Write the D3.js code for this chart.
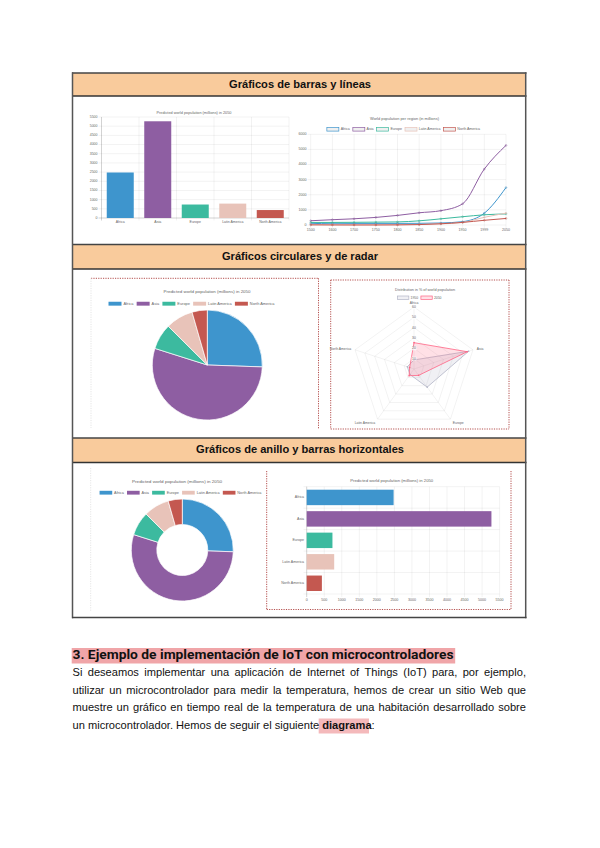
<!DOCTYPE html>
<html><head><meta charset="utf-8">
<script src="https://cdn.jsdelivr.net/npm/d3@7"></script>
<style>body{margin:0;background:#fff}svg{display:block}</style>
</head><body>
<svg id="c" width="600" height="848"></svg>
<script>
// ---------------- DATA ----------------
const regions = ["Africa", "Asia", "Europe", "Latin America", "North America"];
const regionColors = ["#3e95cd", "#8e5ea2", "#3cba9f", "#e8c3b9", "#c45850"];
const pop2050 = [2478, 5267, 734, 784, 433];
const years = ["1500", "1600", "1700", "1750", "1800", "1850", "1900", "1950", "1999", "2050"];
const africaSeries = [86, 114, 106, 106, 107, 111, 133, 221, 783, 2478];
const asiaSeries = [282, 350, 411, 502, 635, 809, 947, 1402, 3700, 5267];
const europeSeries = [168, 170, 178, 190, 203, 276, 408, 547, 675, 734];
const latamSeries = [40, 20, 10, 16, 24, 38, 74, 167, 508, 784];
const naSeries = [6, 3, 2, 2, 7, 26, 82, 172, 312, 433];
const radarLabels = ["Africa", "Asia", "Europe", "Latin America", "North America"];
const share1950 = [8.77, 55.61, 21.69, 6.62, 6.82];
const share2050 = [25.48, 54.16, 7.61, 8.06, 4.45];
const barTicks = d3.range(0, 5501, 500);
const lineTicks = d3.range(0, 6001, 1000);
const radarTicks = [10, 20, 30, 40, 50, 60];
const sectionTitles = ["Gráficos de barras y líneas", "Gráficos circulares y de radar", "Gráficos de anillo y barras horizontales"];
const barTitle = "Predicted world population (millions) in 2050";
const lineTitle = "World population per region (in millions)";
const radarTitle = "Distribution in % of world population";
const heading = "3. Ejemplo de implementación de IoT con microcontroladores";
const paraLines = [
  "Si deseamos implementar una aplicación de Internet of Things (IoT) para, por ejemplo,",
  "utilizar un microcontrolador para medir la temperatura, hemos de crear un sitio Web que",
  "muestre un gráfico en tiempo real de la temperatura de una habitación desarrollado sobre"
];
const lastLineA = "un microcontrolador. Hemos de seguir el siguiente ";
const lastLineBold = "diagrama";
const lastLineC = ":";

// ---------------- HELPERS ----------------
const svg = d3.select("#c");
svg.append("rect").attr("width", 600).attr("height", 848).attr("fill", "#fff");
const FONT = "'Liberation Sans', Arial, Helvetica, sans-serif";
const GRID = "rgba(0,0,0,0.1)";
const TXT = "#666";

function text(g, x, y, s, fs, o = {}) {
  const t = g.append("text").attr("x", x).attr("y", y).text(s)
    .attr("font-family", o.family || FONT).attr("font-size", fs)
    .attr("fill", o.fill || TXT).attr("text-anchor", o.anchor || "start")
    .attr("dominant-baseline", o.baseline || "middle");
  if (o.weight) t.attr("font-weight", o.weight);
  if (o.len) t.attr("textLength", o.len).attr("lengthAdjust", "spacingAndGlyphs");
  return t;
}
function measure(s, fs, weight, family) {
  const t = svg.append("text").attr("font-family", family || FONT).attr("font-size", fs)
    .attr("font-weight", weight || "normal").text(s);
  const w = t.node().getComputedTextLength(); t.remove(); return w;
}
function legend(g, labels, cx, y, fs, boxStyle) {
  const bw = fs * 3.33, bh = fs, gap1 = fs * 0.5, gap2 = bw * 0.25;
  const ws = labels.map(l => measure(l, fs));
  const total = d3.sum(ws) + labels.length * (bw + gap1) + (labels.length - 1) * gap2;
  let x = cx - total / 2;
  labels.forEach((l, i) => {
    const r = g.append("rect").attr("x", x).attr("y", y - bh / 2).attr("width", bw).attr("height", bh);
    boxStyle(r, i);
    text(g, x + bw + gap1, y, l, fs);
    x += bw + gap1 + ws[i] + gap2;
  });
}
function dotted(g, x1, y1, x2, y2, color, w) {
  g.append("line").attr("x1", x1).attr("y1", y1).attr("x2", x2).attr("y2", y2)
    .attr("stroke", color).attr("stroke-width", w || 1).attr("stroke-dasharray", "1.2,1.2");
}

// ---------------- TABLE ----------------
const table = svg.append("g");
const headerRows = [[73, 96], [244.5, 269], [438, 462.5]];
const headerLens = [142, 156, 208];
headerRows.forEach(([y0, y1], i) => {
  table.append("rect").attr("x", 72.5).attr("y", y0).attr("width", 453).attr("height", y1 - y0).attr("fill", "#f9cb9c");
  table.append("line").attr("x1", 72).attr("x2", 526.5).attr("y1", y0).attr("y2", y0).attr("stroke", "#444").attr("stroke-width", 1.5);
  table.append("line").attr("x1", 72).attr("x2", 526.5).attr("y1", y1).attr("y2", y1).attr("stroke", "#333").attr("stroke-width", 1.3);
  text(table, 300, (y0 + y1) / 2 + 0.5, sectionTitles[i], 10, { anchor: "middle", weight: "bold", fill: "#111", len: headerLens[i] });
});
table.append("line").attr("x1", 72.5).attr("x2", 72.5).attr("y1", 72.3).attr("y2", 618.3).attr("stroke", "#555").attr("stroke-width", 1.5);
table.append("line").attr("x1", 525.7).attr("x2", 525.7).attr("y1", 72.3).attr("y2", 618.3).attr("stroke", "#555").attr("stroke-width", 1.5);
table.append("line").attr("x1", 72).attr("x2", 526.5).attr("y1", 617.6).attr("y2", 617.6).attr("stroke", "#444").attr("stroke-width", 1.5);

// ---------------- BAR CHART ----------------
(function () {
  const g = svg.append("g");
  const fs = 3.5;
  const x = d3.scaleBand().domain(regions).range([101.5, 289]).padding(0);
  const y = d3.scaleLinear().domain([0, 5500]).range([218, 117]);
  text(g, 194, 112.7, barTitle, fs, { anchor: "middle", len: 75 });
  barTicks.forEach(t => {
    g.append("line").attr("x1", 98.5).attr("x2", 289).attr("y1", y(t)).attr("y2", y(t)).attr("stroke", GRID).attr("stroke-width", 0.5);
    text(g, 97.5, y(t), String(t), fs, { anchor: "end" });
  });
  regions.forEach((r, i) => {
    g.append("line").attr("x1", x(r)).attr("x2", x(r)).attr("y1", 117).attr("y2", 220.5).attr("stroke", GRID).attr("stroke-width", 0.5);
  });
  g.append("line").attr("x1", 289).attr("x2", 289).attr("y1", 117).attr("y2", 220.5).attr("stroke", GRID).attr("stroke-width", 0.5);
  g.append("line").attr("x1", 101.5).attr("x2", 101.5).attr("y1", 117).attr("y2", 220.5).attr("stroke", "rgba(0,0,0,0.25)").attr("stroke-width", 0.5);
  g.append("line").attr("x1", 98.5).attr("x2", 289).attr("y1", 218).attr("y2", 218).attr("stroke", "rgba(0,0,0,0.25)").attr("stroke-width", 0.5);
  const bw = x.bandwidth() * 0.72;
  g.selectAll(".b").data(pop2050).join("rect")
    .attr("x", (d, i) => x(regions[i]) + (x.bandwidth() - bw) / 2)
    .attr("y", d => y(d)).attr("width", bw).attr("height", d => y(0) - y(d))
    .attr("fill", (d, i) => regionColors[i]);
  regions.forEach(r => text(g, x(r) + x.bandwidth() / 2, 222.3, r, fs, { anchor: "middle" }));
})();

// ---------------- LINE CHART ----------------
(function () {
  const g = svg.append("g");
  const fs = 3.6;
  const x = d3.scalePoint().domain(years).range([310.7, 506]);
  const y = d3.scaleLinear().domain([0, 6000]).range([225, 134.3]);
  text(g, 404.5, 119.3, lineTitle, fs, { anchor: "middle", len: 69 });
  legend(g, regions, 403.5, 129.3, fs, (r, i) => r.attr("fill", "rgba(0,0,0,0.06)").attr("stroke", regionColors[i]).attr("stroke-width", 0.7));
  lineTicks.forEach(t => {
    g.append("line").attr("x1", 307.5).attr("x2", 506).attr("y1", y(t)).attr("y2", y(t)).attr("stroke", GRID).attr("stroke-width", 0.5);
    text(g, 306.5, y(t), String(t), fs, { anchor: "end" });
  });
  years.forEach(yr => {
    g.append("line").attr("x1", x(yr)).attr("x2", x(yr)).attr("y1", 134.3).attr("y2", 228).attr("stroke", GRID).attr("stroke-width", 0.5);
    text(g, x(yr), 230.3, yr, fs, { anchor: "middle" });
  });
  const series = [africaSeries, asiaSeries, europeSeries, latamSeries, naSeries];
  const line = d3.line().x((d, i) => x(years[i])).y(d => y(d)).curve(d3.curveMonotoneX);
  series.forEach((s, k) => {
    g.append("path").attr("d", line(s)).attr("fill", "none").attr("stroke", regionColors[k]).attr("stroke-width", 1);
    g.selectAll(null).data(s).join("circle").attr("cx", (d, i) => x(years[i])).attr("cy", d => y(d)).attr("r", 0.9)
      .attr("fill", "rgba(0,0,0,0.1)").attr("stroke", regionColors[k]).attr("stroke-width", 0.4);
  });
})();

// ---------------- PIE CHART ----------------
(function () {
  const g = svg.append("g");
  const fs = 3.9;
  dotted(g, 91, 278.3, 318.5, 278.3, "#b5514f", 1);
  dotted(g, 318.5, 278.3, 318.5, 429, "#b5514f", 1);
  dotted(g, 91, 278.3, 91, 428, "#e4e4e4", 1);
  text(g, 207, 292.3, barTitle, fs, { anchor: "middle", len: 87 });
  legend(g, regions, 191.5, 303.7, fs, (r, i) => r.attr("fill", regionColors[i]));
  const arcs = d3.pie().sort(null)(pop2050);
  const arc = d3.arc().innerRadius(0).outerRadius(55);
  g.append("g").attr("transform", "translate(207.3,365)").selectAll("path").data(arcs).join("path")
    .attr("d", arc).attr("fill", (d, i) => regionColors[i]).attr("stroke", "#fff").attr("stroke-width", 0.7);
})();

// ---------------- RADAR CHART ----------------
(function () {
  const g = svg.append("g");
  const fs = 3.4;
  const bx0 = 330.7, by0 = 280, bx1 = 509, by1 = 429;
  dotted(g, bx0, by0, bx1, by0, "#b5514f"); dotted(g, bx1, by0, bx1, by1, "#b5514f");
  dotted(g, bx0, by1, bx1, by1, "#b5514f"); dotted(g, bx0, by0, bx0, by1, "#b5514f");
  text(g, 425, 289.7, radarTitle, fs, { anchor: "middle", len: 60 });
  legend(g, ["1950", "2050"], 419.5, 297.7, fs, (r, i) => i === 0
    ? r.attr("fill", "rgba(179,181,198,0.2)").attr("stroke", "rgba(179,181,198,1)").attr("stroke-width", 0.7)
    : r.attr("fill", "rgba(255,99,132,0.2)").attr("stroke", "rgba(255,99,132,1)").attr("stroke-width", 0.7));
  const cx = 414, cy = 369;
  const r = d3.scaleLinear().domain([0, 60]).range([0, 62]);
  const ang = i => -Math.PI / 2 + i * 2 * Math.PI / radarLabels.length;
  const pt = (i, v) => [cx + r(v) * Math.cos(ang(i)), cy + r(v) * Math.sin(ang(i))];
  radarTicks.forEach(t => {
    g.append("polygon").attr("points", radarLabels.map((l, i) => pt(i, t).join(",")).join(" "))
      .attr("fill", "none").attr("stroke", GRID).attr("stroke-width", 0.5);
  });
  radarLabels.forEach((l, i) => {
    const [px, py] = pt(i, 60);
    g.append("line").attr("x1", cx).attr("y1", cy).attr("x2", px).attr("y2", py).attr("stroke", GRID).attr("stroke-width", 0.5);
  });
  const line = d3.line().curve(d3.curveLinearClosed);
  [[share1950, "rgba(179,181,198,0.2)", "rgba(179,181,198,1)"], [share2050, "rgba(255,99,132,0.2)", "rgba(255,99,132,1)"]].forEach(([s, f, st]) => {
    g.append("path").attr("d", line(s.map((v, i) => pt(i, v)))).attr("fill", f).attr("stroke", st).attr("stroke-width", 0.8);
    s.forEach((v, i) => { const [px, py] = pt(i, v); g.append("circle").attr("cx", px).attr("cy", py).attr("r", 0.8).attr("fill", st); });
  });
  radarTicks.forEach(t => {
    const yy = cy - r(t);
    const w = measure(String(t), fs);
    g.append("rect").attr("x", cx - w / 2 - 0.6).attr("y", yy - fs / 2 - 0.3).attr("width", w + 1.2).attr("height", fs + 0.6).attr("fill", "rgba(255,255,255,0.75)");
    text(g, cx, yy, String(t), fs, { anchor: "middle" });
  });
  radarLabels.forEach((l, i) => {
    const a = ang(i);
    const [px, py] = pt(i, 60);
    const ox = Math.cos(a) * 4, oy = Math.sin(a) * 3;
    const c = Math.cos(a);
    const anchor = Math.abs(c) < 0.1 ? "middle" : (c > 0 ? "start" : "end");
    text(g, px + ox, py + oy + (Math.sin(a) > 0.5 ? 1.5 : 0) - (Math.sin(a) < -0.9 ? 0.5 : 0), l, fs, { anchor });
  });
})();

// ---------------- DOUGHNUT ----------------
(function () {
  const g = svg.append("g");
  const fs = 3.8;
  dotted(g, 90.7, 468, 90.7, 611, "#e6e6e6", 1);
  text(g, 177, 482.3, barTitle, fs, { anchor: "middle", len: 90 });
  legend(g, regions, 180.5, 492.7, fs, (r, i) => r.attr("fill", regionColors[i]));
  const arcs = d3.pie().sort(null)(pop2050);
  const arc = d3.arc().innerRadius(25.5).outerRadius(51);
  g.append("g").attr("transform", "translate(182.3,550)").selectAll("path").data(arcs).join("path")
    .attr("d", arc).attr("fill", (d, i) => regionColors[i]).attr("stroke", "#fff").attr("stroke-width", 0.7);
})();

// ---------------- HORIZONTAL BAR ----------------
(function () {
  const g = svg.append("g");
  const fs = 3.6;
  dotted(g, 266.7, 471, 266.7, 609.5, "#b5514f"); dotted(g, 511, 471, 511, 609.5, "#b5514f");
  dotted(g, 266.7, 609.5, 511, 609.5, "#b5514f");
  text(g, 391.7, 480.7, barTitle, fs, { anchor: "middle", len: 83 });
  const y = d3.scaleBand().domain(regions).range([486.7, 594]).padding(0);
  const x = d3.scaleLinear().domain([0, 5500]).range([306.7, 499.6]);
  barTicks.forEach(t => {
    g.append("line").attr("x1", x(t)).attr("x2", x(t)).attr("y1", 486.7).attr("y2", 597).attr("stroke", GRID).attr("stroke-width", 0.5);
    text(g, x(t), 600, String(t), fs, { anchor: "middle" });
  });
  regions.forEach(rg => {
    g.append("line").attr("x1", 303.5).attr("x2", 499.6).attr("y1", y(rg)).attr("y2", y(rg)).attr("stroke", GRID).attr("stroke-width", 0.5);
  });
  g.append("line").attr("x1", 303.5).attr("x2", 499.6).attr("y1", 594).attr("y2", 594).attr("stroke", GRID).attr("stroke-width", 0.5);
  g.append("line").attr("x1", 306.7).attr("x2", 306.7).attr("y1", 486.7).attr("y2", 597).attr("stroke", "rgba(0,0,0,0.25)").attr("stroke-width", 0.5);
  const bh = y.bandwidth() * 0.72;
  g.selectAll(".hb").data(pop2050).join("rect")
    .attr("x", x(0)).attr("y", (d, i) => y(regions[i]) + (y.bandwidth() - bh) / 2)
    .attr("width", d => x(d) - x(0)).attr("height", bh)
    .attr("fill", (d, i) => regionColors[i]);
  regions.forEach(rg => text(g, 304, y(rg) + y.bandwidth() / 2, rg, fs, { anchor: "end" }));
})();

// ---------------- TEXT BELOW ----------------
(function () {
  const g = svg.append("g");
  g.append("rect").attr("x", 71.7).attr("y", 648).attr("width", 383.5).attr("height", 15.5).attr("fill", "#f0a5a8");
  text(g, 72.5, 656, heading, 13, { weight: "bold", fill: "#111", family: "Roboto, 'Liberation Sans', Arial", len: 381 });
  const fs = 11.1;
  const lineY = [673.3, 691, 708.5];
  paraLines.forEach((ln, k) => {
    const words = ln.split(" ");
    const ws = words.map(w => measure(w, fs));
    const gap = (526 - 72.5 - d3.sum(ws)) / (words.length - 1);
    let x = 72.5;
    words.forEach((w, i) => { text(g, x, lineY[k], w, fs, { fill: "#111" }); x += ws[i] + gap; });
  });
  const y4 = 726;
  const wa = measure(lastLineA, fs);
  const wb = measure(lastLineBold, fs, "bold");
  g.append("rect").attr("x", 72.5 + wa - 0.5).attr("y", y4 - 7.5).attr("width", wb + 1).attr("height", 15).attr("fill", "#f4b9bb");
  const t = g.append("text").attr("x", 72.5).attr("y", y4).attr("font-family", FONT).attr("font-size", fs)
    .attr("fill", "#111").attr("dominant-baseline", "middle").attr("xml:space", "preserve");
  t.append("tspan").text(lastLineA);
  t.append("tspan").attr("font-weight", "bold").text(lastLineBold);
  t.append("tspan").text(lastLineC);
})();
</script>
</body></html>
